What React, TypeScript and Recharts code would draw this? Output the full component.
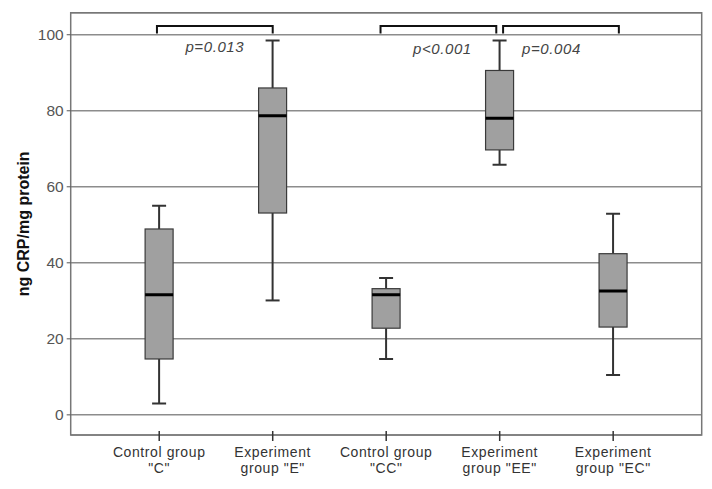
import React from 'react';
import {
  ComposedChart,
  Bar,
  Line,
  Scatter,
  XAxis,
  YAxis,
  CartesianGrid,
  ReferenceArea
} from 'recharts';

// Groups and their box plot statistics
const positions = [1, 2, 3, 4, 5];
const groupLines = [
  ['Control group', '"C"'],
  ['Experiment', 'group "E"'],
  ['Control group', '"CC"'],
  ['Experiment', 'group "EE"'],
  ['Experiment', 'group "EC"']
];
const minValues = [3.0, 30.1, 14.7, 65.8, 10.5];
const q1Values = [14.7, 53.1, 22.8, 69.7, 23.1];
const medianValues = [31.6, 78.7, 31.6, 78.0, 32.6];
const q3Values = [48.9, 86.0, 33.2, 90.6, 42.4];
const maxValues = [55.0, 98.5, 36.0, 98.5, 52.9];

const yTicks = [0, 20, 40, 60, 80, 100];

// Significance brackets: [from, to] on the group axis
const bracketSpans = [
  [0.98, 2.0],
  [2.95, 3.97],
  [4.03, 5.05]
];
const bracketTop = 102.3;
const bracketFoot = 100.3;

const pTexts = ['p=0.013', 'p<0.001', 'p=0.004'];
const pX = [1.49, 3.495, 4.456];
const pY = [95.4, 95.0, 95.0];

const FONT = '"Liberation Sans", Arial, sans-serif';

const boxData = positions.map((x, i) => ({
  x,
  min: minValues[i],
  q1: q1Values[i],
  median: medianValues[i],
  q3: q3Values[i],
  max: maxValues[i]
}));

const bracketData = bracketSpans.map(([a, b]) => [
  { x: a, y: bracketFoot },
  { x: a, y: bracketTop },
  { x: b, y: bracketTop },
  { x: b, y: bracketFoot }
]);

const pData = pTexts.map((text, i) => ({ x: pX[i], y: pY[i], text }));

const BOX_HALF = 14;
const CAP_HALF = 7;

// Box + whiskers, drawn inside the [min, max] range bar
const BoxShape = (props: any) => {
  const { x, y, width, height, payload } = props;
  if (!payload) return null;
  const { min, q1, median, q3, max } = payload;
  const top = Math.min(y, y + height);
  const h = Math.abs(height);
  const toPx = (v: number) => top + (h * (max - v)) / (max - min);
  const cx = x + width / 2;
  const yQ3 = toPx(q3);
  const yQ1 = toPx(q1);
  const yMed = toPx(median);
  const yMax = toPx(max);
  const yMin = toPx(min);
  return (
    <g>
      <line x1={cx} x2={cx} y1={yMax} y2={yQ3} stroke="#333" strokeWidth={2} />
      <line x1={cx} x2={cx} y1={yQ1} y2={yMin} stroke="#333" strokeWidth={2} />
      <line x1={cx - CAP_HALF} x2={cx + CAP_HALF} y1={yMax} y2={yMax} stroke="#333" strokeWidth={2} />
      <line x1={cx - CAP_HALF} x2={cx + CAP_HALF} y1={yMin} y2={yMin} stroke="#333" strokeWidth={2} />
      <rect
        x={cx - BOX_HALF}
        y={yQ3}
        width={BOX_HALF * 2}
        height={yQ1 - yQ3}
        fill="#a0a0a0"
        stroke="#3a3a3a"
        strokeWidth={1.2}
      />
      <line x1={cx - BOX_HALF} x2={cx + BOX_HALF} y1={yMed} y2={yMed} stroke="#000" strokeWidth={3} />
    </g>
  );
};

const PLabel = (props: any) => {
  const { cx, cy, payload } = props;
  return (
    <text
      x={cx}
      y={cy}
      textAnchor="middle"
      fontFamily={FONT}
      fontSize={15}
      fontStyle="italic"
      letterSpacing={0.6}
      fill="#444"
    >
      {payload.text}
    </text>
  );
};

const GroupTick = (props: any) => {
  const { x, y, payload } = props;
  const idx = positions.indexOf(payload.value);
  const lines = idx >= 0 ? groupLines[idx] : [];
  return (
    <g>
      <line x1={x} x2={x} y1={y - 4} y2={y + 6} stroke="#333" strokeWidth={1.5} />
      {lines.map((t, i) => (
        <text
          key={i}
          x={x}
          y={y + 21.5 + i * 16}
          textAnchor="middle"
          fontFamily={FONT}
          fontSize={14}
          letterSpacing={0.6}
          fill="#333"
        >
          {t}
        </text>
      ))}
    </g>
  );
};

const YLabel = (props: any) => {
  const { viewBox } = props;
  const lx = viewBox.x + 8.5;
  const ly = viewBox.y + viewBox.height / 2;
  return (
    <text
      x={lx}
      y={ly}
      transform={`rotate(-90, ${lx}, ${ly})`}
      textAnchor="middle"
      fontFamily={FONT}
      fontSize={16}
      fontWeight="bold"
      fill="#111"
    >
      ng CRP/mg protein
    </text>
  );
};

const App: React.FC = () => {
  return (
    <ComposedChart
      width={704}
      height={481}
      data={boxData}
      margin={{ top: 4.7, right: 10.3, bottom: 4, left: 12.7 }}
    >
      <CartesianGrid horizontal vertical={false} stroke="#8c8c8c" strokeWidth={1.5} />
      <XAxis
        dataKey="x"
        type="number"
        domain={[0.22, 5.78]}
        allowDataOverflow
        ticks={positions}
        interval={0}
        height={50}
        axisLine={false}
        tickLine={false}
        tickSize={0}
        tickMargin={0}
        tick={<GroupTick />}
      />
      <YAxis
        type="number"
        domain={[-5.3, 105.8]}
        allowDataOverflow
        ticks={yTicks}
        width={50}
        axisLine={false}
        tickSize={4}
        tickMargin={3}
        tickLine={{ stroke: '#555' }}
        tick={{ fontFamily: FONT, fontSize: 15.5, fill: '#555' }}
        label={<YLabel />}
      />
      <ReferenceArea
        y1={-5.3}
        y2={105.8}
        x1={0.22}
        x2={5.78}
        fill="none"
        stroke="#777"
        strokeWidth={1.5}
        ifOverflow="visible"
      />
      <Bar
        dataKey={(d: any) => [d.min, d.max]}
        barSize={28}
        shape={<BoxShape />}
        isAnimationActive={false}
      />
      {bracketData.map((pts, i) => (
        <Line
          key={i}
          data={pts}
          dataKey="y"
          type="linear"
          stroke="#111"
          strokeWidth={2}
          dot={false}
          activeDot={false}
          isAnimationActive={false}
        />
      ))}
      <Scatter data={pData} dataKey="y" shape={<PLabel />} isAnimationActive={false} />
    </ComposedChart>
  );
};

export default App;
